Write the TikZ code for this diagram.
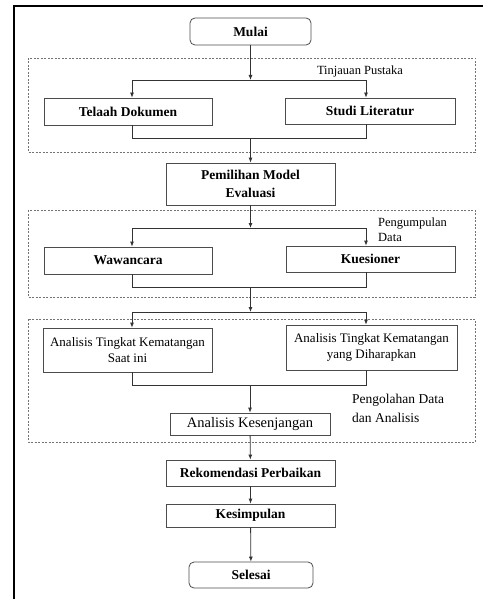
\documentclass[tikz,border=0pt]{standalone}
\usepackage{fontspec}
\setmainfont{Liberation Serif}
\usetikzlibrary{arrows.meta}

\begin{document}
\begin{tikzpicture}
[x=1pt,y=-1pt,
every node/.style={align=center,inner sep=0pt},
box/.style={draw=black!70,line width=0.8pt,minimum height=27pt,
  font=\fontsize{13.5}{18}\selectfont\bfseries},
ends/.style={box,rounded corners=5pt},
thin box/.style={box,font=\fontsize{13}{16}\selectfont},
group/.style={draw=black!55,line width=0.7pt,dash pattern=on 2pt off 1.5pt},
note/.style={align=left,font=\fontsize{12.5}{15}\selectfont},
link/.style={draw=black!80,line width=0.8pt},
arrow/.style={link,-{Latex[length=5pt,width=4pt]}},
]
\useasboundingbox (0,0) rectangle (483,599);
\draw[line width=2pt] (14,599) -- (14,6) -- (483,6);

% kelompok
\draw[group] (28,58) rectangle (475,152);
\draw[group] (28,210) rectangle (475,297);
\draw[group] (28,319) rectangle (475,442);

\node[ends,minimum width=121pt] (mulai) at (250.5,31.5) {Mulai};
\node[box,minimum width=168pt] (telaah) at (128,111.5) {Telaah Dokumen};
\node[box,minimum width=170pt,minimum height=26pt] (studi) at (370,111) {Studi Literatur};
\node[box,minimum width=169pt,minimum height=42pt] (pemilihan) at (250.5,184)
  {Pemilihan Model\\Evaluasi};
\node[box,minimum width=168pt] (wawancara) at (128,260.5) {Wawancara};
\node[box,minimum width=169pt,minimum height=26pt] (kuesioner) at (370.5,259) {Kuesioner};
\node[thin box,minimum width=169pt,minimum height=44pt] (saatini) at (127.5,350)
  {Analisis Tingkat Kematangan\\Saat ini};
\node[thin box,minimum width=171pt,minimum height=45pt] (harapan) at (371.5,347.5)
  {Analisis Tingkat Kematangan\\yang Diharapkan};
\node[box,minimum width=160pt,minimum height=22pt,
  font=\fontsize{14.5}{16}\selectfont] (kesenjangan) at (250,424) {Analisis Kesenjangan};
\node[box,minimum width=169pt,minimum height=26pt] (rekomendasi) at (250.5,473)
  {Rekomendasi Perbaikan};
\node[box,minimum width=169pt,minimum height=23pt] (kesimpulan) at (250.5,515.5)
  {Kesimpulan};
\node[ends,minimum width=124pt,minimum height=26pt] (selesai) at (251,575) {Selesai};

% keterangan
\node[note] (tinjauan) at (360,71) {Tinjauan Pustaka};
\node[note,anchor=west] (pengumpulan) at (378,229.5) {Pengumpulan\\Data};
\node[note,anchor=west,font=\fontsize{13.5}{19}\selectfont] (pengolahan) at (352,408.5)
  {Pengolahan Data\\dan Analisis};

% titik cabang
\coordinate (tpL) at (132,80);   \coordinate (tpR) at (366,80);
\coordinate (tbL) at (132,138);  \coordinate (tbR) at (366,138);
\coordinate (pdL) at (132,228);  \coordinate (pdR) at (366,228);
\coordinate (pbL) at (132,287);  \coordinate (pbR) at (366,287);
\coordinate (paL) at (132,312);  \coordinate (paR) at (366,312);
\coordinate (pkL) at (132,385);  \coordinate (pkR) at (366,385);

\draw[arrow] (mulai) -- (mulai |- tpL);
\draw[link] (tpL) -- (tpR);
\draw[arrow] (tpL) -- (tpL |- telaah.north);
\draw[arrow] (tpR) -- (tpR |- studi.north);
\draw[link] (tbL |- telaah.south) -- (tbL) -- (tbR) -- (tbR |- studi.south);
\draw[arrow] (pemilihan |- tbL) -- (pemilihan);

\draw[arrow] (pemilihan) -- (pemilihan |- pdL);
\draw[link] (pdL) -- (pdR);
\draw[arrow] (pdL) -- (pdL |- wawancara.north);
\draw[arrow] (pdR) -- (pdR |- kuesioner.north);
\draw[link] (pbL |- wawancara.south) -- (pbL) -- (pbR) -- (pbR |- kuesioner.south);
\draw[arrow] (pemilihan |- pbL) -- (pemilihan |- paL);

\draw[link] (paL) -- (paR);
\draw[arrow] (paL) -- (paL |- saatini.north);
\draw[arrow] (paR) -- (paR |- harapan.north);
\draw[link] (pkL |- saatini.south) -- (pkL) -- (pkR) -- (pkR |- harapan.south);
\draw[arrow] (kesenjangan |- pkL) -- (kesenjangan);

\draw[arrow] (kesenjangan) -- (rekomendasi);
\draw[arrow] (rekomendasi) -- (kesimpulan);
\draw[arrow] (kesimpulan) -- (selesai);
\end{tikzpicture}
\end{document}
